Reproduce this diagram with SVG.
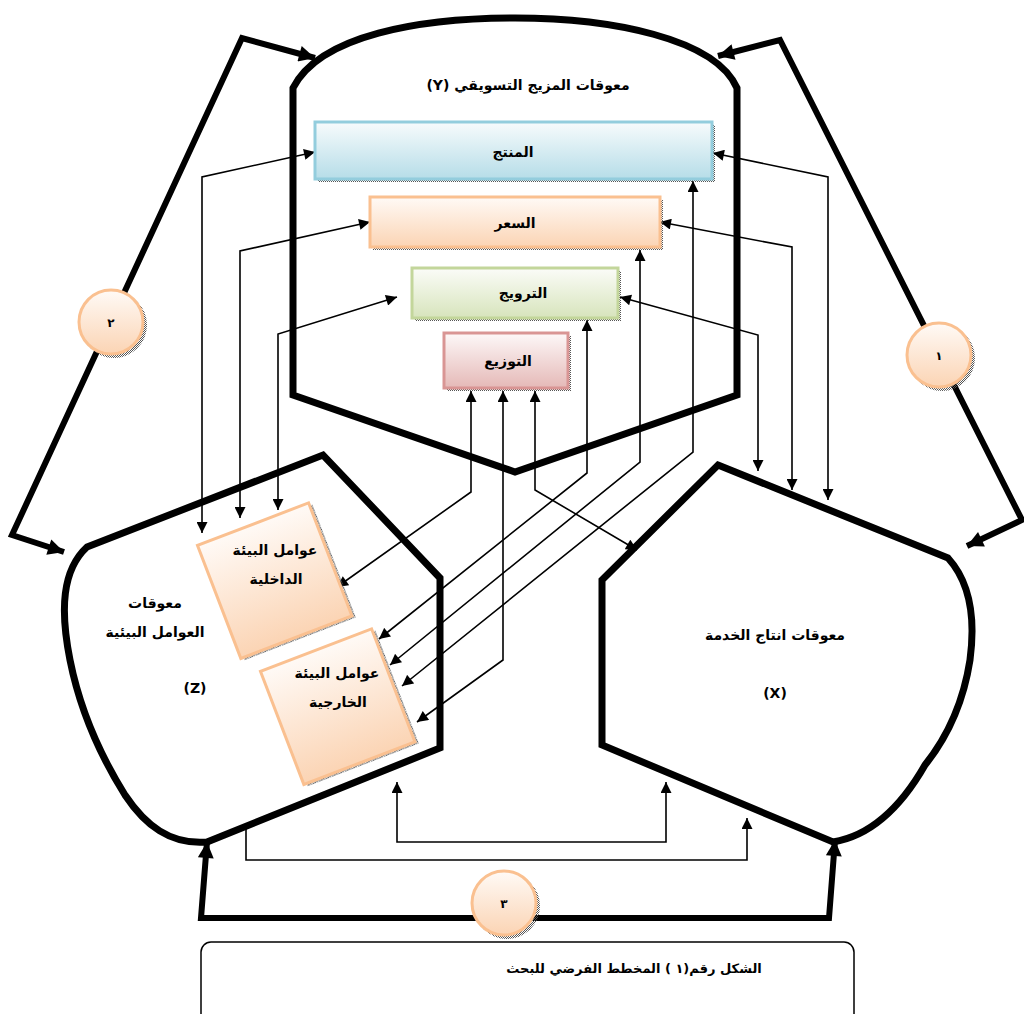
<svg xmlns="http://www.w3.org/2000/svg" width="1024" height="1014" viewBox="0 0 1024 1014">
<style>
  .shape{fill:none;stroke:#000;stroke-width:7;stroke-linejoin:miter}
  .thick{fill:none;stroke:#000;stroke-width:6;marker-start:url(#big);marker-end:url(#big)}
  .thin{fill:none;stroke:#000;stroke-width:1.6;marker-start:url(#sm);marker-end:url(#sm)}
  .thin1{fill:none;stroke:#000;stroke-width:1.6;marker-end:url(#sm)}
  text{font-family:"DejaVu Sans","Liberation Sans",sans-serif;font-weight:bold;fill:#000;direction:rtl;text-anchor:middle}
  .t14{font-size:14px}
  .t13{font-size:13px}
  .t12{font-size:12px}
</style>
<defs>
  <marker id="sm" viewBox="0 0 10 10" refX="10" refY="5" markerWidth="12" markerHeight="11" markerUnits="userSpaceOnUse" orient="auto-start-reverse"><path d="M0,0 L10,5 L0,10 z" fill="#000"/></marker>
  <marker id="big" viewBox="0 0 10 10" refX="10" refY="5" markerWidth="20" markerHeight="16" markerUnits="userSpaceOnUse" orient="auto-start-reverse"><path d="M0,0 L10,5 L0,10 z" fill="#000"/></marker>
  <pattern id="dots" width="2" height="2" patternUnits="userSpaceOnUse"><rect width="1" height="1" fill="#555"/><rect x="1" y="1" width="1" height="1" fill="#555"/></pattern>
  <linearGradient id="gBlue" x1="0" y1="0" x2="0" y2="1"><stop offset="0" stop-color="#f7fbfc"/><stop offset="1" stop-color="#b6dde8"/></linearGradient>
  <linearGradient id="gOr" x1="0" y1="0" x2="0" y2="1"><stop offset="0" stop-color="#fffaf6"/><stop offset="1" stop-color="#fbd4b4"/></linearGradient>
  <linearGradient id="gGr" x1="0" y1="0" x2="0" y2="1"><stop offset="0" stop-color="#fbfcf8"/><stop offset="1" stop-color="#d7e4bc"/></linearGradient>
  <linearGradient id="gRd" x1="0" y1="0" x2="0" y2="1"><stop offset="0" stop-color="#fdf8f8"/><stop offset="1" stop-color="#e5b9b7"/></linearGradient>
</defs>
<rect width="1024" height="1014" fill="#fff"/>

<g id="shapeY">
  <path class="shape" d="M293,395 L293,88 C320,35 420,18 515,18 C610,18 715,38 737,88 L737,395 L515,472 Z"/>
  <text class="t14" x="528" y="90">معوقات المزيج التسويقي  (Y)</text>
</g>
<g id="shapeZ">
  <path class="shape" d="M87,547 L323,455 L440,578 L440,748 L207,842 C170,845 145,825 125,795 C100,755 80,710 70,660 C60,610 62,570 87,547 Z"/>
  <text class="t14" x="155" y="608">معوقات</text>
  <text class="t14" x="155" y="637">العوامل البيئية</text>
  <text class="t14" x="195" y="693">(Z)</text>
</g>
<g id="shapeX">
  <path class="shape" d="M718,465 L948,558 C968,580 976,615 970,660 C963,705 945,740 925,765 C905,800 875,835 833,842 L602,745 L602,580 Z"/>
  <text class="t14" x="775" y="640">معوقات انتاج الخدمة</text>
  <text class="t14" x="775" y="698">(X)</text>
</g>

<g id="connectors">
  <path class="thick" d="M315,58 L242,38 L12,535 L64,552"/>
  <path class="thick" d="M718,56 L780,40 L1022,520 L967,546"/>
  <path class="thick" d="M207,842 L201,918 L829,918 L835,840"/>
  <path class="thin" d="M315,152 L202,177 L202,533"/>
  <path class="thin" d="M370,222 L240,251 L240,518"/>
  <path class="thin" d="M397,297 L278,334 L278,510"/>
  <path class="thin" d="M713,153 L828,177 L828,500"/>
  <path class="thin" d="M660,222 L792,247 L792,490"/>
  <path class="thin" d="M620,297 L758,335 L758,471"/>
  <path class="thin" d="M693,181 L693,452 L402,686"/>
  <path class="thin" d="M640,250 L640,462 L390,665"/>
  <path class="thin" d="M587,320 L587,473 L379,639"/>
  <path class="thin" d="M471,391 L471,492 L337,587"/>
  <path class="thin" d="M503,391 L503,660 L417,722"/>
  <path class="thin" d="M535,391 L535,490 L637,550"/>
  <path class="thin" d="M397,782 L397,842 L666,842 L666,782"/>
  <path class="thin1" d="M246,828 L246,860 L747,860 L747,818"/>
</g>

<g id="boxProduct">
  <rect x="318" y="125" width="397" height="57" fill="url(#dots)"/>
  <rect x="315" y="122" width="397" height="57" fill="url(#gBlue)" stroke="#93cddd" stroke-width="3"/>
  <text class="t14" x="513" y="157">المنتج</text>
</g>
<g id="boxPrice">
  <rect x="373" y="200" width="290" height="50" fill="url(#dots)"/>
  <rect x="370" y="197" width="290" height="50" fill="url(#gOr)" stroke="#fac090" stroke-width="3"/>
  <text class="t14" x="515" y="228">السعر</text>
</g>
<g id="boxPromo">
  <rect x="415" y="271" width="206" height="50" fill="url(#dots)"/>
  <rect x="412" y="268" width="206" height="50" fill="url(#gGr)" stroke="#c3d69b" stroke-width="3"/>
  <text class="t14" x="523" y="298">الترويج</text>
</g>
<g id="boxDist">
  <rect x="447" y="336" width="124" height="55" fill="url(#dots)"/>
  <rect x="444" y="333" width="124" height="55" fill="url(#gRd)" stroke="#d99594" stroke-width="3"/>
  <text class="t14" x="508" y="366">التوزيع</text>
</g>

<g id="boxInternal">
  <g transform="translate(275,580) rotate(-21)">
    <rect x="-57" y="-57" width="119" height="121" fill="url(#dots)"/>
    <rect x="-60" y="-60" width="119" height="121" fill="url(#gOr)" stroke="#fac090" stroke-width="3"/>
  </g>
  <text class="t14" x="275" y="555">عوامل البيئة</text>
  <text class="t14" x="276" y="584">الداخلية</text>
</g>
<g id="boxExternal">
  <g transform="translate(338,706) rotate(-21)">
    <rect x="-57" y="-57" width="119" height="121" fill="url(#dots)"/>
    <rect x="-60" y="-60" width="119" height="121" fill="url(#gOr)" stroke="#fac090" stroke-width="3"/>
  </g>
  <text class="t14" x="337" y="678">عوامل البيئة</text>
  <text class="t14" x="338" y="707">الخارجية</text>
</g>

<g id="circle1">
  <circle cx="942" cy="358" r="33" fill="url(#dots)"/>
  <circle cx="939" cy="355" r="32" fill="url(#gOr)" stroke="#fac090" stroke-width="3"/>
  <text class="t12" x="939" y="360">١</text>
</g>
<g id="circle2">
  <circle cx="114" cy="325" r="33" fill="url(#dots)"/>
  <circle cx="111" cy="322" r="32" fill="url(#gOr)" stroke="#fac090" stroke-width="3"/>
  <text class="t12" x="111" y="327">٢</text>
</g>
<g id="circle3">
  <circle cx="507" cy="906" r="33" fill="url(#dots)"/>
  <circle cx="504" cy="903" r="32" fill="url(#gOr)" stroke="#fac090" stroke-width="3"/>
  <text class="t12" x="504" y="908">٣</text>
</g>

<g id="caption">
  <rect x="201" y="942" width="653" height="95" rx="10" fill="#fff" stroke="#000" stroke-width="1.5"/>
  <text class="t13" x="634" y="973">الشكل رقم(١ ) المخطط الفرضي للبحث</text>
</g>
</svg>
